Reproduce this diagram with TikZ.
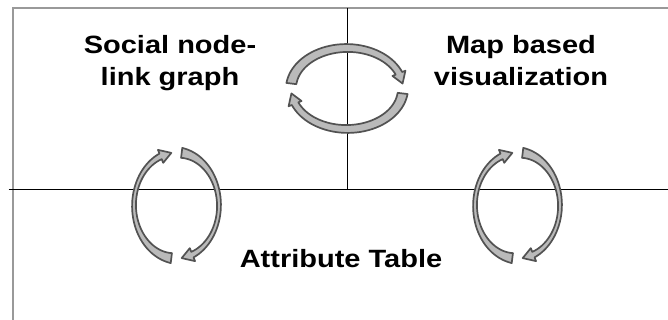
\documentclass[tikz,border=0pt]{standalone}
\usepackage{fontspec}
\setmainfont{Liberation Sans}
\usetikzlibrary{positioning}

% curved arrow on an ellipse: rx, ry, start angle, tip angle, band width at start / middle / head
\newcommand{\cycarrow}[7]{%
  \pgfmathsetmacro{\cyRx}{#1}%
  \pgfmathsetmacro{\cyRy}{#2}%
  \pgfmathsetmacro{\cyA}{#3}%
  \pgfmathsetmacro{\cyB}{#4+15}%
  \pgfmathsetmacro{\cyQ}{2*(#5+#7)-4*(#6)}%
  \pgfmathsetmacro{\cyL}{(#7)-(#5)-(\cyQ)}%
  \path[cyc]
    plot[domain=\cyA:\cyB, samples=40, smooth]
      ({(\cyRx+(#5)+(\cyL)*((\x-(\cyA))/((\cyB)-(\cyA)))+(\cyQ)*((\x-(\cyA))/((\cyB)-(\cyA)))^2)*cos(\x)},
       {(\cyRy+(#5)+(\cyL)*((\x-(\cyA))/((\cyB)-(\cyA)))+(\cyQ)*((\x-(\cyA))/((\cyB)-(\cyA)))^2)*sin(\x)})
    -- ({(\cyRx+7)*cos(\cyB)}, {(\cyRy+7)*sin(\cyB)})
    -- ({\cyRx*cos(#4)}, {\cyRy*sin(#4)})
    -- ({(\cyRx-7)*cos(\cyB)}, {(\cyRy-7)*sin(\cyB)})
    -- plot[domain=\cyB:\cyA, samples=40, smooth]
      ({(\cyRx-(#5)-(\cyL)*((\x-(\cyA))/((\cyB)-(\cyA)))-(\cyQ)*((\x-(\cyA))/((\cyB)-(\cyA)))^2)*cos(\x)},
       {(\cyRy-(#5)-(\cyL)*((\x-(\cyA))/((\cyB)-(\cyA)))-(\cyQ)*((\x-(\cyA))/((\cyB)-(\cyA)))^2)*sin(\x)})
    -- cycle;%
}

\begin{document}
\begin{tikzpicture}[
        x=1pt, y=1pt,
        lbl/.style={font=\bfseries\fontsize{25}{32}\selectfont, align=center, inner sep=0pt, xscale=1.16, transform shape},
        cyc/.style={fill=black!27, draw=black!68, line width=1.7pt, line join=round},
        frame/.style={draw=black!40, line width=2pt},
        sep/.style={draw=black, line width=0.9pt}
    ]
        \useasboundingbox (0,0) rectangle (668,320);
        \clip (0,0) rectangle (668,320);

        % --- Рамка и поделе ---
        \draw[frame] (12.5,312) rectangle (690,-20);
        \coordinate (hl) at (8.5,131);
        \coordinate (hr) at (668,131);
        \coordinate (vt) at (347,312);
        \draw[sep] (hl) -- (hr);
        \draw[sep] (vt) -- (vt |- hl);

        % --- Ознаке ---
        \node[lbl, anchor=base] (social) at (170,234) {Social node-\\link graph};
        \node[lbl, anchor=base] (map) at (521,234) {Map based\\visualization};
        \node[lbl, anchor=base] (attr) at (341,52) {Attribute Table};

        % --- Кружне стрелице ---
        \coordinate (topcyc) at (347,231.5);
        \coordinate (leftcyc) at (176.5,114.5);
        \coordinate (rightcyc) at (517.5,114.5);
        \begin{scope}[shift={(topcyc)}]
            \cycarrow{56}{40.5}{173}{7}{5}{4}{3.5}
            \cycarrow{56}{40.5}{-7}{-173}{5}{4}{3.5}
        \end{scope}
        \foreach \c in {leftcyc, rightcyc} {
            \begin{scope}[shift={(\c)}]
                \cycarrow{42.5}{53}{83}{-83}{5}{2}{3}
                \cycarrow{42.5}{53}{263}{97}{5}{2}{3}
            \end{scope}
        }
    \end{tikzpicture}
\end{document}
